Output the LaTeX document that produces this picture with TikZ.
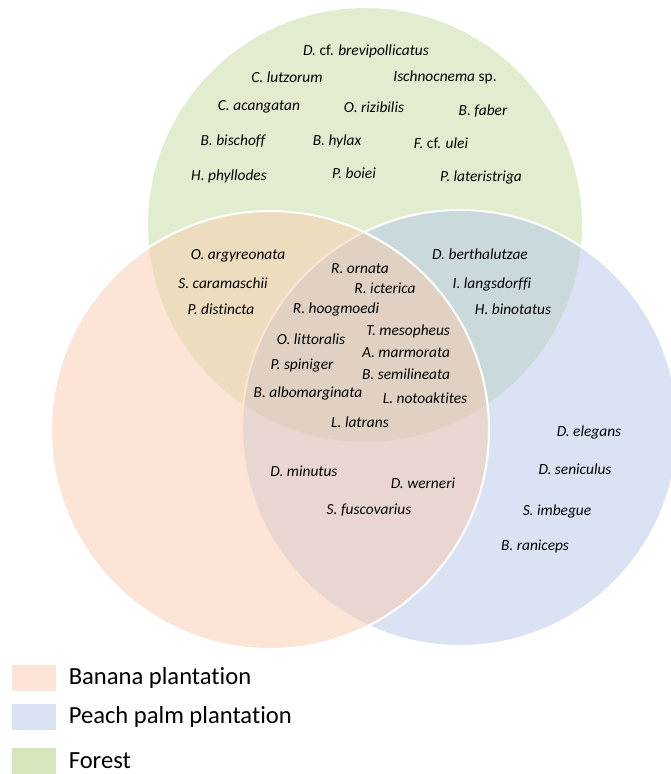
\documentclass[tikz,border=0pt]{standalone}
\usepackage{fontspec}
\setmainfont{Carlito}[Ligatures=NoCommon]
\usepackage{xcolor}
\usetikzlibrary{positioning}
\definecolor{bananacol}{HTML}{F9CBAD}
\definecolor{palmcol}{HTML}{B4C7E7}
\definecolor{forestcol}{HTML}{C5DB9F}

\begin{document}
\begin{tikzpicture}[
    x=0.5pt, y=-0.5pt,
    node distance=6pt,
    set/.style={draw=white, line width=1pt, fill opacity=0.5},
    species/.style={font=\fontsize{7.7}{9}\selectfont\itshape, inner sep=0pt},
    key/.style={minimum width=22pt, minimum height=13pt, inner sep=0pt, fill opacity=0.5},
    keytext/.style={font=\fontsize{12.3}{14}\selectfont, inner sep=0pt, anchor=west}
]
\useasboundingbox (0,0) rectangle (670,774);

% Sets
\draw[set, fill=forestcol] (365,225) circle[radius=218];
\draw[set, fill=palmcol] (460,428) circle[radius=218];
\draw[set, fill=bananacol] (270,430) circle[radius=219];

% Forest only
\foreach \id/\x/\y/\name in {
    brev/366/51/D. \textup{cf.} brevipollicatus,
    lutz/287/77/C. lutzorum,
    ischn/445/77/Ischnocnema \textup{sp.},
    acang/259/107/C. acangatan,
    rizib/374/107/O. rizibilis,
    faber/483/111/B. faber,
    bisch/233/141/B. bischoff,
    hylax/337/141/B. hylax,
    ulei/441/143/F. \textup{cf.} ulei,
    phyll/229/176/H. phyllodes,
    boiei/354/173/P. boiei,
    later/481/177/P. lateristriga}
    \node[species] (\id) at (\x,\y) {\name};

% Forest and banana
\foreach \id/\x/\y/\name in {
    argyr/238/256/O. argyreonata,
    caram/223/283/S. caramaschii,
    disti/221/309/P. distincta}
    \node[species] (\id) at (\x,\y) {\name};

% Forest and peach palm
\foreach \id/\x/\y/\name in {
    berth/480/254/D. berthalutzae,
    langs/492/284/I. langsdorffi,
    binot/513/309/H. binotatus}
    \node[species] (\id) at (\x,\y) {\name};

% All three
\foreach \id/\x/\y/\name in {
    ornat/360/269/R. ornata,
    icter/385/288/R. icterica,
    hoogm/336/309/R. hoogmoedi,
    mesop/408/331/T. mesopheus,
    litto/311/339/O. littoralis,
    marmo/406/353/A. marmorata,
    spini/302/366/P. spiniger,
    semil/406/374/B. semilineata,
    albom/308/393/B. albomarginata,
    notoa/425/398/L. notoaktites,
    latra/360/422/L. latrans}
    \node[species] (\id) at (\x,\y) {\name};

% Banana and peach palm
\foreach \id/\x/\y/\name in {
    minut/304/471/D. minutus,
    werne/423/483/D. werneri,
    fusco/369/510/S. fuscovarius}
    \node[species] (\id) at (\x,\y) {\name};

% Peach palm only
\foreach \id/\x/\y/\name in {
    elega/589/432/D. elegans,
    senic/575/469/D. seniculus,
    imbeg/557/511/S. imbegue,
    ranic/535/546/B. raniceps}
    \node[species] (\id) at (\x,\y) {\name};

% Legend
\node[key, fill=bananacol] (keyBanana) at (34,678) {};
\node[key, fill=palmcol] (keyPalm) at (34,717) {};
\node[key, fill=forestcol, fill opacity=0.7] (keyForest) at (34,761) {};
\node[keytext, right=of keyBanana] (txtBanana) {Banana plantation};
\node[keytext, right=of keyPalm] (txtPalm) {Peach palm plantation};
\node[keytext, right=of keyForest] (txtForest) {Forest};
\end{tikzpicture}
\end{document}
